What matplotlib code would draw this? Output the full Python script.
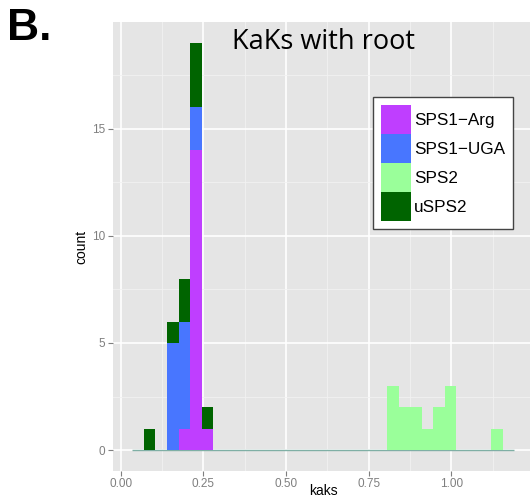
import numpy as np
import matplotlib.pyplot as plt
from matplotlib.patches import Patch

plt.rcParams["font.family"] = ["Liberation Sans", "DejaVu Sans"]

# histogram bins (left edges) that hold counts, binwidth 0.035
bin_left = [0.070, 0.140, 0.175, 0.210, 0.245, 0.805, 0.840, 0.875, 0.910, 0.945, 0.980, 1.120]
binwidth = 0.035
kaks_range = [0.035, 1.190]

groups = ["SPS1\u2212Arg", "SPS1\u2212UGA", "SPS2", "uSPS2"]
sps1_arg = [0, 0, 1, 14, 1, 0, 0, 0, 0, 0, 0, 0]
sps1_uga = [0, 5, 5, 2, 0, 0, 0, 0, 0, 0, 0, 0]
sps2 = [0, 0, 0, 0, 0, 3, 2, 2, 1, 2, 3, 1]
usps2 = [1, 1, 2, 3, 1, 0, 0, 0, 0, 0, 0, 0]
colors = ["#BF3EFF", "#4876FF", "#9AFF9A", "#006400"]

fig = plt.figure(figsize=(5.3, 5.0), dpi=100)
ax = fig.add_axes([113 / 530, 29.5 / 500, 420.5 / 530, 448 / 500])
ax.set_facecolor("#E5E5E5")
for s in ax.spines.values():
    s.set_visible(False)

ax.hlines(0, kaks_range[0], kaks_range[1], color="#7FAFA5", lw=1, zorder=2)

bottom = np.zeros(len(bin_left))
for name, vals, col in zip(groups, [sps1_arg, sps1_uga, sps2, usps2], colors):
    vals = np.array(vals, dtype=float)
    ax.bar(bin_left, vals, width=binwidth, bottom=bottom, align="edge",
           color=col, edgecolor="none", zorder=3)
    bottom += vals

ax.set_xlim(-0.023, 1.248)
ax.set_ylim(-0.95, 19.95)
ax.set_xticks([0.0, 0.25, 0.5, 0.75, 1.0])
ax.set_xticklabels(["0.00", "0.25", "0.50", "0.75", "1.00"])
ax.set_xticks([0.125, 0.375, 0.625, 0.875, 1.125], minor=True)
ax.set_yticks([0, 5, 10, 15])
ax.set_yticks([2.5, 7.5, 12.5, 17.5], minor=True)
ax.grid(which="major", color="white", lw=1.2, zorder=0)
ax.grid(which="minor", color="#F2F2F2", lw=0.6, zorder=0)
ax.set_axisbelow(True)
ax.tick_params(which="major", length=3.5, width=0.8, color="#7F7F7F",
               labelcolor="#7F7F7F", labelsize=8.5, pad=2)
ax.tick_params(which="minor", length=0)

ax.set_ylabel("count", fontsize=10, labelpad=3)
fig.text(323 / 530, 1 - 491 / 500, "kaks", fontsize=10, ha="center", va="center")

handles = [Patch(facecolor=c, edgecolor="none") for c in colors]
leg = fig.legend(handles, groups, loc="upper left",
                 bbox_to_anchor=(373 / 530, 1 - 97 / 500),
                 fontsize=12.3, frameon=True, fancybox=False,
                 handlelength=1.76, handleheight=2.24, labelspacing=0,
                 handletextpad=0.2, borderpad=0.45, borderaxespad=0)
leg.get_frame().set_edgecolor("#444444")
leg.get_frame().set_linewidth(1.0)
leg.get_frame().set_facecolor("white")
leg.get_frame().set_alpha(1)

fig.text(324 / 530, 1 - 42 / 500, "KaKs with root", fontsize=19.5,
         family="Open Sans", ha="center", va="center")
fig.text(7 / 530, 1 - 28 / 500, "B.", fontsize=32, fontweight="bold",
         ha="left", va="center")

fig.savefig("out.png", dpi=100)
